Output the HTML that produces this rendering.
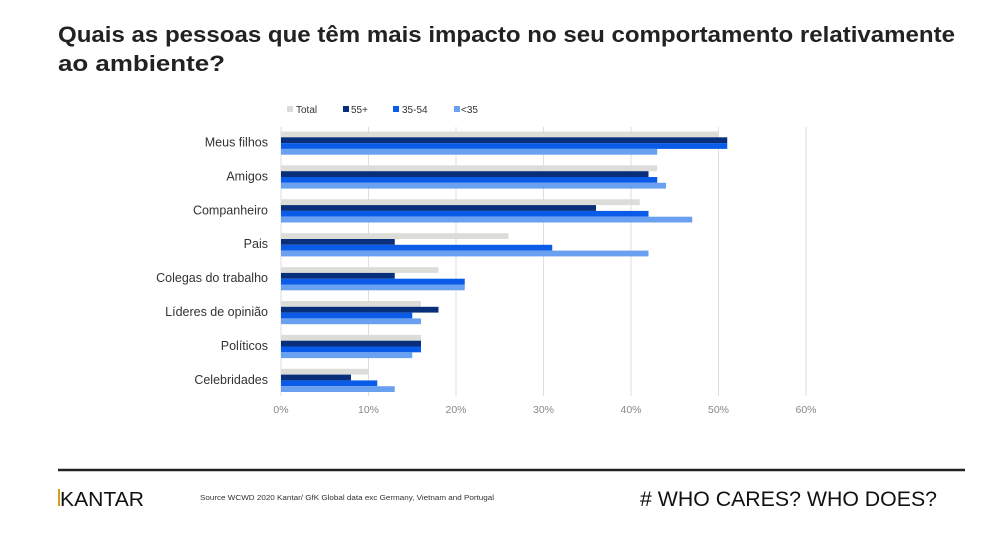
<!DOCTYPE html>
<html><head><meta charset="utf-8"><style>
html,body{margin:0;padding:0;background:#fff;width:1000px;height:535px;overflow:hidden}
svg{display:block;font-family:"Liberation Sans",Arial,sans-serif}
</style></head><body>
<svg width="1000" height="535" viewBox="0 0 1000 535">
<text x="58" y="42" font-size="22" font-weight="bold" fill="#222" textLength="897" lengthAdjust="spacingAndGlyphs">Quais as pessoas que têm mais impacto no seu comportamento relativamente</text>
<text x="58" y="71" font-size="22" font-weight="bold" fill="#222" textLength="167" lengthAdjust="spacingAndGlyphs">ao ambiente?</text>

<g font-size="10" fill="#333">
<rect x="287" y="106" width="6" height="6" fill="#dcdcd8"/><text x="296" y="113">Total</text>
<rect x="343" y="106" width="6" height="6" fill="#0a2f7a"/><text x="351" y="113">55+</text>
<rect x="393" y="106" width="6" height="6" fill="#0a5ce8"/><text x="402" y="113">35-54</text>
<rect x="454" y="106" width="6" height="6" fill="#6aa0f0"/><text x="461" y="113">&lt;35</text>
</g>

<g stroke="#dedede" stroke-width="1">
<line x1="281" y1="127" x2="281" y2="396"/>
<line x1="368.5" y1="127" x2="368.5" y2="396"/>
<line x1="456" y1="127" x2="456" y2="396"/>
<line x1="543.5" y1="127" x2="543.5" y2="396"/>
<line x1="631" y1="127" x2="631" y2="396"/>
<line x1="718.5" y1="127" x2="718.5" y2="396"/>
<line x1="806" y1="127" x2="806" y2="396"/>
</g>

<g font-size="10.5" fill="#888" text-anchor="middle">
<text x="281" y="413">0%</text><text x="368.5" y="413">10%</text><text x="456" y="413">20%</text><text x="543.5" y="413">30%</text><text x="631" y="413">40%</text><text x="718.5" y="413">50%</text><text x="806" y="413">60%</text>
</g>

<g id="bars"></g>
<g id="labels" font-size="12.5" fill="#333" text-anchor="end"></g>

<line x1="58" y1="470" x2="965" y2="470" stroke="#222" stroke-width="2.5"/>
<rect x="58" y="489" width="2" height="17" fill="#d4a017"/>
<text x="60" y="506" font-size="20" fill="#111" textLength="84" lengthAdjust="spacingAndGlyphs">KANTAR</text>
<text x="200" y="500" font-size="7" fill="#333" textLength="294" lengthAdjust="spacingAndGlyphs">Source WCWD 2020 Kantar/ GfK Global data exc Germany, Vietnam and Portugal</text>
<text x="640" y="506" font-size="21" fill="#111" textLength="297" lengthAdjust="spacingAndGlyphs"># WHO CARES? WHO DOES?</text>
</svg>
<script>
var d=[["Meus filhos",50,51,51,43],["Amigos",43,42,43,44],["Companheiro",41,36,42,47],["Pais",26,13,31,42],["Colegas do trabalho",18,13,21,21],["Líderes de opinião",16,18,15,16],["Políticos",16,16,16,15],["Celebridades",10,8,11,13]];
var c=["#dcdcd8","#0a2f7a","#0a5ce8","#6aa0f0"];
var b=document.getElementById("bars"),l=document.getElementById("labels"),ns="http://www.w3.org/2000/svg";
d.forEach(function(r,i){var y0=131.5+i*33.9;
for(var k=0;k<4;k++){var e=document.createElementNS(ns,"rect");e.setAttribute("x",281);e.setAttribute("y",y0+k*5.8);e.setAttribute("width",r[k+1]*8.75);e.setAttribute("height",5.8);e.setAttribute("fill",c[k]);b.appendChild(e);}
var t=document.createElementNS(ns,"text");t.setAttribute("x",268);t.setAttribute("y",y0+15);t.textContent=r[0];l.appendChild(t);});
</script>
</body></html>
